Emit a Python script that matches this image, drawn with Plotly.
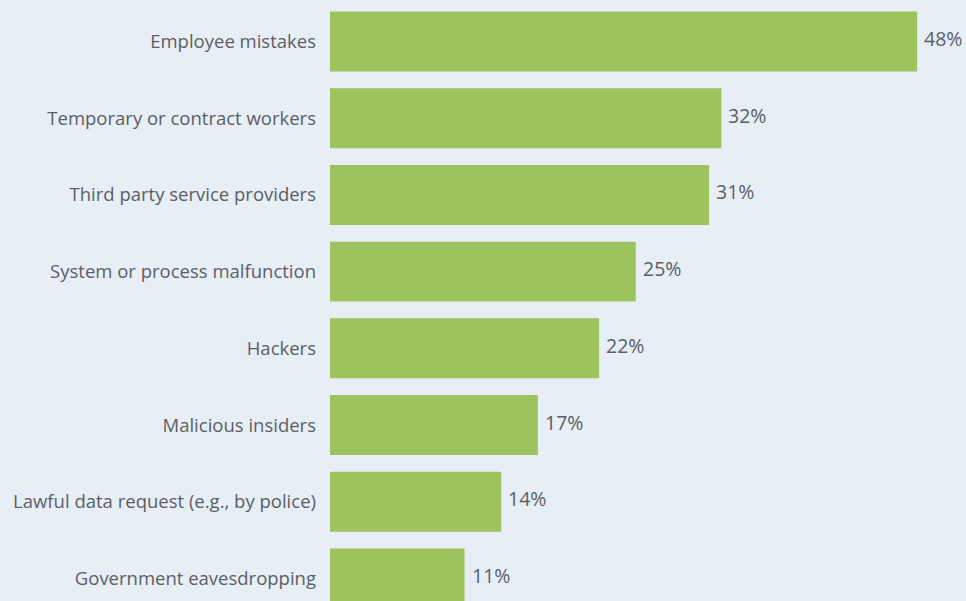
import plotly.graph_objects as go

categories = [
    "Employee mistakes",
    "Temporary or contract workers",
    "Third party service providers",
    "System or process malfunction",
    "Hackers",
    "Malicious insiders",
    "Lawful data request (e.g., by police)",
    "Government eavesdropping",
]
values = [48, 32, 31, 25, 22, 17, 14, 11]
value_labels = [f"{v}%" for v in values]

BG = "#e7eef6"
BAR = "#9dc35f"
TEXT = "#5b5f64"
FONT = "Open Sans"

fig = go.Figure(
    go.Bar(
        x=values,
        y=categories,
        orientation="h",
        marker=dict(color=BAR, line=dict(width=0)),
        hoverinfo="skip",
    )
)

# percentage labels just past the end of each bar
for cat, v, lab in zip(categories, values, value_labels):
    fig.add_annotation(
        x=v,
        y=cat,
        text=lab,
        showarrow=False,
        xanchor="left",
        yanchor="middle",
        xshift=5,
        yshift=3,
        font=dict(family=FONT, size=19.5, color=TEXT),
    )

fig.update_layout(
    width=966,
    height=601,
    margin=dict(l=330, r=0, t=0, b=0),
    paper_bgcolor=BG,
    plot_bgcolor=BG,
    bargap=0.218,
    showlegend=False,
    font=dict(family=FONT, color=TEXT, size=18.5),
)
fig.update_xaxes(
    range=[0, 52.0],
    visible=False,
    showgrid=False,
    zeroline=False,
)
fig.update_yaxes(
    range=[7.294, -0.541],
    showgrid=False,
    zeroline=False,
    showline=False,
    ticks="",
    ticklabelstandoff=13,
    tickfont=dict(family=FONT, size=18.5, color=TEXT),
)

fig.write_html("out.html")
